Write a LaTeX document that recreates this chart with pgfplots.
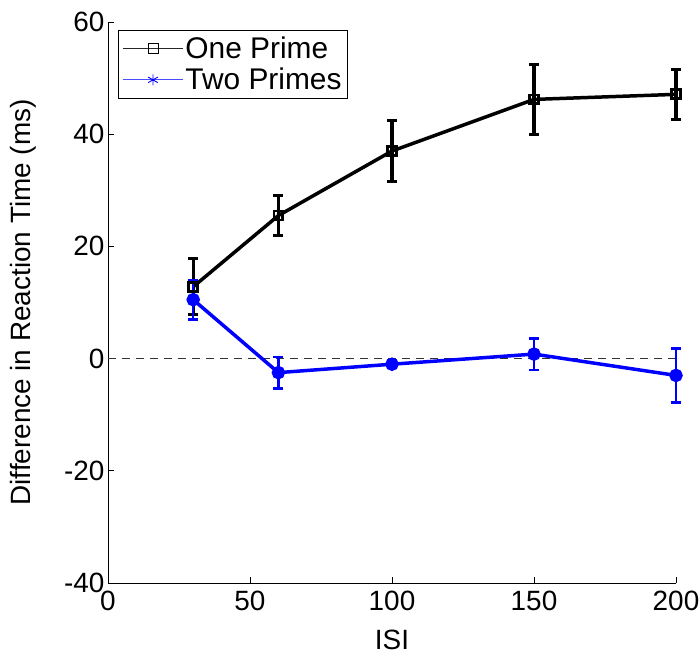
\documentclass[border=0pt]{standalone}
\usepackage{pgfplots}
\pgfplotsset{compat=1.18}
\usepackage{fontspec}
\setmainfont{Liberation Sans}
\definecolor{mblue}{RGB}{0,0,255}
\begin{document}
\begin{tikzpicture}
\begin{axis}[
  at={(0,0)}, anchor=south west,
  scale only axis, width=568bp, height=561bp,
  xmin=0, xmax=200, ymin=-40, ymax=60,
  xtick={0,50,100,150,200}, ytick={-40,-20,0,20,40,60},
  axis x line*=bottom, axis y line*=left,
  axis line style={black, line width=0.6pt, -},
  tick align=inside, major tick length=6bp,
  tick style={black, line width=0.6pt},
  /pgf/number format/assume math mode=true,
  ticklabel style={font=\fontsize{28}{32}\selectfont},
  xticklabel style={yshift=-5bp},
  yticklabel style={xshift=0bp},
  xlabel={ISI}, ylabel={Difference in Reaction Time (ms)},
  label style={font=\fontsize{28}{32}\selectfont},
  xlabel style={at={(axis description cs:0.5,0)}, anchor=center, yshift=-57bp},
  ylabel style={at={(axis description cs:0,0.5)}, anchor=center, yshift=85bp},
  legend style={at={(0.018,0.986)}, anchor=north west, draw=black, line width=0.6pt,
    font=\fontsize{30}{33}\selectfont, row sep=4bp, inner xsep=4bp, inner ysep=5bp,
    nodes={inner sep=2bp},
    /tikz/every even column/.append style={column sep=10bp}},
  legend cell align=left,
  legend image code/.code={\draw[mark repeat=2, mark phase=2, #1] plot coordinates {(6bp,0bp) (36bp,0bp) (66bp,0bp)};},
  clip=false,
]
\addplot[black!80, line width=0.8pt, dash pattern=on 8bp off 6bp, forget plot] coordinates {(0,0) (200,0)};
\addplot[forget plot, black, line width=3.5pt, mark=square, mark size=4.5pt, mark options={solid, line width=2.8pt},
  error bars/.cd, y dir=both, y explicit, error bar style={line width=3.2pt},
  error mark options={rotate=90, mark size=5bp, line width=3.2pt}]
  coordinates {
  (30,12.8) +- (0,5.0)
  (60,25.5) +- (0,3.5)
  (100,37.0) +- (0,5.5)
  (150,46.2) +- (0,6.2)
  (200,47.1) +- (0,4.5)
};
\addplot[forget plot, mblue, line width=3.5pt, mark=*, mark size=5pt, mark options={solid},
  error bars/.cd, y dir=both, y explicit, error bar style={line width=2.6pt},
  error mark options={rotate=90, mark size=5bp, line width=2.6pt}]
  coordinates {
  (30,10.5) +- (0,3.5)
  (60,-2.5) +- (0,2.8)
  (100,-1.0) +- (0,0.5)
  (150,0.8) +- (0,2.8)
  (200,-3.0) +- (0,4.8)
};
\addlegendimage{black!85, line width=0.7pt, mark=square, mark size=5bp, mark options={line width=0.8pt, black}}
\addlegendentry{One Prime}
\addlegendimage{mblue!70, line width=0.9pt, mark=asterisk, mark size=5.5bp, mark options={line width=0.9pt, mblue}}
\addlegendentry{Two Primes}
\end{axis}
\pgfresetboundingbox
\useasboundingbox (-108bp,-75bp) rectangle (592bp,583bp);
\end{tikzpicture}
\end{document}
